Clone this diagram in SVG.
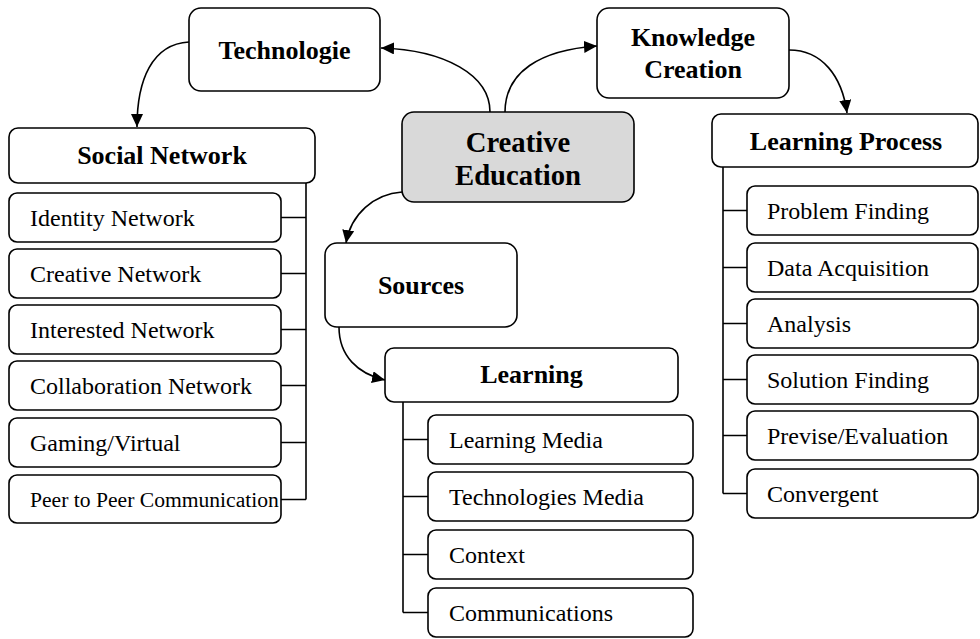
<svg xmlns="http://www.w3.org/2000/svg" width="980" height="639" viewBox="0 0 980 639">
  <defs>
    <marker id="arrow" markerUnits="userSpaceOnUse" markerWidth="14" markerHeight="12" refX="13" refY="6" orient="auto">
      <path d="M0,0 L13,6 L0,12 Z" fill="#000"/>
    </marker>
    <style>
      .box { fill: #fff; stroke: #000; stroke-width: 1.6; }
      .main { fill: #d9d9d9; stroke: #000; stroke-width: 1.6; }
      .head { font-family: "Liberation Serif", "Times New Roman", serif; font-weight: bold; font-size: 26px; text-anchor: middle; fill: #000; }
      .item { font-family: "Liberation Serif", "Times New Roman", serif; font-size: 24px; fill: #000; }
      .link { fill: none; stroke: #000; stroke-width: 1.6; }
      .tree { fill: none; stroke: #000; stroke-width: 1.6; }
    </style>
  </defs>

  <rect width="980" height="639" fill="#fff"/>

  <!-- connectors -->
  <g id="connectors">
    <path class="link" d="M490,112 C490,75 445,50 381,48" marker-end="url(#arrow)"/>
    <path class="link" d="M505,112 C505,72 540,50 597,46" marker-end="url(#arrow)"/>
    <path class="link" d="M189,42 C152,44 137,80 137,127" marker-end="url(#arrow)"/>
    <path class="link" d="M789,50 C822,50 842,76 847,113" marker-end="url(#arrow)"/>
    <path class="link" d="M402,192 C374,194 351,214 346,243" marker-end="url(#arrow)"/>
    <path class="link" d="M339,327 C339,356 358,374 385,380" marker-end="url(#arrow)"/>

    <!-- Social Network branch -->
    <path class="tree" d="M306,183 V499.5 M281,217.5 H306 M281,273.5 H306 M281,329.5 H306 M281,385.5 H306 M281,442.5 H306 M281,499.5 H306"/>
    <!-- Learning branch -->
    <path class="tree" d="M403,402 V612.5 M403,439.5 H428 M403,496.5 H428 M403,554.5 H428 M403,612.5 H428"/>
    <!-- Learning Process branch -->
    <path class="tree" d="M723,167 V493.5 M723,210.5 H747 M723,267.5 H747 M723,323.5 H747 M723,379.5 H747 M723,435.5 H747 M723,493.5 H747"/>
  </g>

  <!-- central node -->
  <g id="creative-education">
    <rect class="main" x="402" y="112" width="232" height="90" rx="12"/>
    <text class="head" x="518" y="152" style="font-size:28.7px">Creative</text>
    <text class="head" x="518" y="185" style="font-size:28.7px">Education</text>
  </g>

  <g id="technologie">
    <rect class="box" x="189" y="8" width="191" height="83" rx="12"/>
    <text class="head" x="284.5" y="59">Technologie</text>
  </g>

  <g id="knowledge-creation">
    <rect class="box" x="597" y="8" width="192" height="90" rx="12"/>
    <text class="head" x="693" y="46">Knowledge</text>
    <text class="head" x="693" y="78">Creation</text>
  </g>

  <g id="sources">
    <rect class="box" x="325" y="243" width="192" height="84" rx="12"/>
    <text class="head" x="421" y="294">Sources</text>
  </g>

  <!-- Social Network list -->
  <g id="social-network">
    <rect class="box" x="9" y="128" width="306" height="55" rx="9"/>
    <text class="head" x="162" y="164">Social Network</text>
  </g>
  <g id="identity-network">
    <rect class="box" x="9" y="193" width="272" height="49" rx="8"/>
    <text class="item" x="30" y="226">Identity Network</text>
  </g>
  <g id="creative-network">
    <rect class="box" x="9" y="249" width="272" height="49" rx="8"/>
    <text class="item" x="30" y="282">Creative Network</text>
  </g>
  <g id="interested-network">
    <rect class="box" x="9" y="305" width="272" height="49" rx="8"/>
    <text class="item" x="30" y="338">Interested Network</text>
  </g>
  <g id="collaboration-network">
    <rect class="box" x="9" y="361" width="272" height="49" rx="8"/>
    <text class="item" x="30" y="394">Collaboration Network</text>
  </g>
  <g id="gaming-virtual">
    <rect class="box" x="9" y="418" width="272" height="49" rx="8"/>
    <text class="item" x="30" y="451">Gaming/Virtual</text>
  </g>
  <g id="peer-to-peer">
    <rect class="box" x="9" y="475" width="272" height="48" rx="8"/>
    <text class="item" x="30" y="507" style="font-size:21.6px">Peer to Peer Communication</text>
  </g>

  <!-- Learning list -->
  <g id="learning">
    <rect class="box" x="385" y="348" width="293" height="54" rx="9"/>
    <text class="head" x="531.5" y="383">Learning</text>
  </g>
  <g id="learning-media">
    <rect class="box" x="428" y="415" width="265" height="49" rx="8"/>
    <text class="item" x="449" y="448">Learning Media</text>
  </g>
  <g id="technologies-media">
    <rect class="box" x="428" y="472" width="265" height="49" rx="8"/>
    <text class="item" x="449" y="505">Technologies Media</text>
  </g>
  <g id="context">
    <rect class="box" x="428" y="530" width="265" height="49" rx="8"/>
    <text class="item" x="449" y="563">Context</text>
  </g>
  <g id="communications">
    <rect class="box" x="428" y="588" width="265" height="49" rx="8"/>
    <text class="item" x="449" y="621">Communications</text>
  </g>

  <!-- Learning Process list -->
  <g id="learning-process">
    <rect class="box" x="712" y="114" width="266" height="53" rx="9"/>
    <text class="head" x="846" y="150">Learning Process</text>
  </g>
  <g id="problem-finding">
    <rect class="box" x="747" y="186" width="231" height="49" rx="8"/>
    <text class="item" x="767" y="219">Problem Finding</text>
  </g>
  <g id="data-acquisition">
    <rect class="box" x="747" y="243" width="231" height="49" rx="8"/>
    <text class="item" x="767" y="276">Data Acquisition</text>
  </g>
  <g id="analysis">
    <rect class="box" x="747" y="299" width="231" height="49" rx="8"/>
    <text class="item" x="767" y="332">Analysis</text>
  </g>
  <g id="solution-finding">
    <rect class="box" x="747" y="355" width="231" height="49" rx="8"/>
    <text class="item" x="767" y="388">Solution Finding</text>
  </g>
  <g id="previse-evaluation">
    <rect class="box" x="747" y="411" width="231" height="49" rx="8"/>
    <text class="item" x="767" y="444">Previse/Evaluation</text>
  </g>
  <g id="convergent">
    <rect class="box" x="747" y="469" width="231" height="49" rx="8"/>
    <text class="item" x="767" y="502">Convergent</text>
  </g>
</svg>
